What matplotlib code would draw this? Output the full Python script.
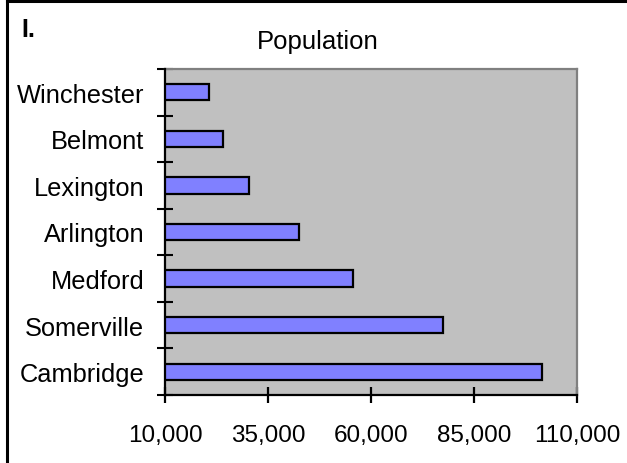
import matplotlib
matplotlib.use("Agg")
import matplotlib.pyplot as plt
from matplotlib.lines import Line2D
from matplotlib.ticker import FuncFormatter

cities = ["Cambridge", "Somerville", "Medford", "Arlington", "Lexington", "Belmont", "Winchester"]
population = [101400, 77500, 55700, 42500, 30400, 24100, 20700]
x_ticks = [10000, 35000, 60000, 85000, 110000]

plt.rcParams['font.family'] = ['Liberation Sans', 'DejaVu Sans']

W, H = 627, 464
fig = plt.figure(figsize=(W / 100, H / 100), dpi=100)
fig.patch.set_facecolor("white")

ax = fig.add_axes([165 / W, 1 - 396 / H, (577 - 165) / W, (396 - 70) / H])
ax.set_facecolor("#C0C0C0")

ypos = list(range(len(cities)))
ax.barh(ypos, population, height=0.35, color="#8080FF", edgecolor="black", linewidth=1.6)

ax.set_xlim(x_ticks[0], x_ticks[-1])
ax.set_ylim(-0.5, len(cities) - 0.5)
ax.set_xticks(x_ticks)
ax.xaxis.set_major_formatter(FuncFormatter(lambda v, p: f"{int(v):,}"))

ax.set_yticks(ypos)
ax.set_yticklabels(cities)
ax.set_yticks([i - 0.5 for i in range(len(cities) + 1)], minor=True)
ax.tick_params(axis="y", which="major", length=0, pad=15, labelsize=18.3)
ax.tick_params(axis="y", which="minor", direction="inout", length=11.5, width=1.5, color="black")
ax.tick_params(axis="x", which="major", direction="inout", length=12, width=1.6, pad=15, labelsize=17.5, color="black")

for s in ["left", "bottom"]:
    ax.spines[s].set_color("black")
    ax.spines[s].set_linewidth(1.6)
for s in ["top", "right"]:
    ax.spines[s].set_color("#808080")
    ax.spines[s].set_linewidth(1.6)
ax.spines["left"].set_zorder(5)
ax.spines["bottom"].set_zorder(5)

fig.text(318 / W, 1 - 42 / H, "Population", ha="center", va="center", fontsize=18.5)
fig.text(21 / W, 1 - 30 / H, "I.", ha="left", va="center", fontsize=18, fontweight="bold")

# outer frame (top and left visible)
fig.add_artist(Line2D([7 / W, 1], [1 - 1.5 / H, 1 - 1.5 / H], transform=fig.transFigure, color="black", linewidth=2.2))
fig.add_artist(Line2D([7 / W, 7 / W], [0, 1 - 1.5 / H], transform=fig.transFigure, color="black", linewidth=2.2))

fig.savefig("out.png", dpi=100, facecolor="white")
